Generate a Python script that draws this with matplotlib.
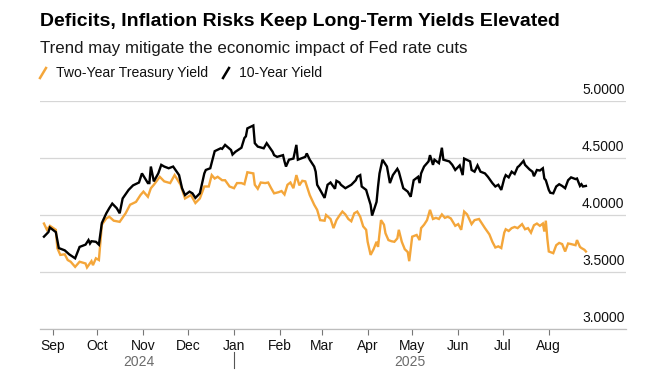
import matplotlib
matplotlib.use('Agg')
import matplotlib.pyplot as plt
import matplotlib.dates as mdates
import matplotlib.transforms as mtransforms
from matplotlib.lines import Line2D
import pandas as pd

plt.rcParams['font.family'] = ['Liberation Sans', 'DejaVu Sans']

# ==========================================
# data
# ==========================================
ten_year_dates = [
    '2024-08-26', '2024-08-29', '2024-08-30', '2024-09-03', '2024-09-05', '2024-09-09', '2024-09-12',
    '2024-09-16', '2024-09-19', '2024-09-23', '2024-09-25', '2024-09-26', '2024-09-27', '2024-09-30',
    '2024-10-02', '2024-10-04', '2024-10-07', '2024-10-09', '2024-10-11', '2024-10-14', '2024-10-16',
    '2024-10-18', '2024-10-22', '2024-10-25', '2024-10-29', '2024-10-31', '2024-11-04', '2024-11-05',
    '2024-11-06', '2024-11-08', '2024-11-11', '2024-11-13', '2024-11-15', '2024-11-18', '2024-11-21',
    '2024-11-25', '2024-11-27', '2024-11-29', '2024-12-02', '2024-12-04', '2024-12-06', '2024-12-09',
    '2024-12-12', '2024-12-13', '2024-12-16', '2024-12-18', '2024-12-19', '2024-12-23', '2024-12-24',
    '2024-12-26', '2024-12-30', '2024-12-31', '2025-01-02', '2025-01-06', '2025-01-08', '2025-01-09',
    '2025-01-10', '2025-01-14', '2025-01-15', '2025-01-17', '2025-01-21', '2025-01-23', '2025-01-27',
    '2025-01-28', '2025-01-30', '2025-02-03', '2025-02-04', '2025-02-05', '2025-02-07', '2025-02-10',
    '2025-02-12', '2025-02-13', '2025-02-18', '2025-02-19', '2025-02-21', '2025-02-24', '2025-02-25',
    '2025-02-26', '2025-02-28', '2025-03-03', '2025-03-05', '2025-03-07', '2025-03-10', '2025-03-11',
    '2025-03-13', '2025-03-14', '2025-03-17', '2025-03-19', '2025-03-21', '2025-03-24', '2025-03-25',
    '2025-03-27', '2025-03-28', '2025-03-31', '2025-04-01', '2025-04-03', '2025-04-04', '2025-04-07',
    '2025-04-08', '2025-04-09', '2025-04-11', '2025-04-14', '2025-04-15', '2025-04-16', '2025-04-18',
    '2025-04-21', '2025-04-22', '2025-04-25', '2025-04-28', '2025-04-30', '2025-05-02', '2025-05-05',
    '2025-05-06', '2025-05-07', '2025-05-09', '2025-05-12', '2025-05-13', '2025-05-15', '2025-05-16',
    '2025-05-19', '2025-05-21', '2025-05-22', '2025-05-26', '2025-05-28', '2025-05-30', '2025-06-02',
    '2025-06-04', '2025-06-05', '2025-06-09', '2025-06-10', '2025-06-12', '2025-06-14', '2025-06-16',
    '2025-06-19', '2025-06-21', '2025-06-24', '2025-06-26', '2025-06-28', '2025-06-30', '2025-07-02',
    '2025-07-03', '2025-07-05', '2025-07-07', '2025-07-09', '2025-07-11', '2025-07-12', '2025-07-15',
    '2025-07-16', '2025-07-19', '2025-07-21', '2025-07-22', '2025-07-24', '2025-07-26', '2025-07-28',
    '2025-07-29', '2025-07-30', '2025-08-01', '2025-08-02', '2025-08-04', '2025-08-06', '2025-08-08',
    '2025-08-10', '2025-08-12', '2025-08-14', '2025-08-16', '2025-08-19', '2025-08-20', '2025-08-22',
    '2025-08-23', '2025-08-24', '2025-08-26',
]
ten_year = [
    3.81, 3.85, 3.89, 3.85, 3.71, 3.69, 3.655,
    3.62, 3.72, 3.74, 3.78, 3.75, 3.77, 3.765,
    3.74, 3.93, 4.015, 4.06, 4.10, 4.06, 4.015,
    4.145, 4.22, 4.26, 4.285, 4.365, 4.28, 4.28,
    4.425, 4.295, 4.365, 4.44, 4.425, 4.41, 4.425,
    4.35, 4.235, 4.175, 4.205, 4.19, 4.15, 4.19,
    4.365, 4.395, 4.41, 4.51, 4.56, 4.585, 4.58,
    4.615, 4.57, 4.53, 4.555, 4.59, 4.675, 4.69,
    4.76, 4.785, 4.63, 4.60, 4.585, 4.63, 4.555,
    4.525, 4.51, 4.525, 4.47, 4.425, 4.485, 4.495,
    4.615, 4.485, 4.51, 4.54, 4.485, 4.425, 4.38,
    4.265, 4.22, 4.15, 4.265, 4.285, 4.23, 4.30,
    4.285, 4.265, 4.235, 4.25, 4.265, 4.305, 4.335,
    4.35, 4.25, 4.22, 4.175, 4.09, 3.995, 4.115,
    4.25, 4.365, 4.485, 4.425, 4.35, 4.28, 4.35,
    4.405, 4.38, 4.235, 4.205, 4.16, 4.305, 4.335,
    4.28, 4.365, 4.425, 4.47, 4.525, 4.44, 4.485,
    4.455, 4.59, 4.485, 4.47, 4.44, 4.395, 4.435,
    4.35, 4.495, 4.47, 4.395, 4.38, 4.435, 4.38,
    4.365, 4.335, 4.28, 4.25, 4.265, 4.22, 4.32,
    4.35, 4.33, 4.38, 4.36, 4.42, 4.43, 4.475,
    4.44, 4.40, 4.38, 4.34, 4.395, 4.39, 4.41,
    4.32, 4.305, 4.22, 4.195, 4.19, 4.25, 4.27,
    4.255, 4.235, 4.305, 4.33, 4.315, 4.32, 4.255,
    4.27, 4.25, 4.255,
]

two_year_dates = [
    '2024-08-26', '2024-08-28', '2024-08-30', '2024-09-03', '2024-09-04', '2024-09-06', '2024-09-09',
    '2024-09-11', '2024-09-13', '2024-09-16', '2024-09-19', '2024-09-23', '2024-09-24', '2024-09-27',
    '2024-09-28', '2024-09-30', '2024-10-02', '2024-10-04', '2024-10-07', '2024-10-09', '2024-10-12',
    '2024-10-16', '2024-10-20', '2024-10-23', '2024-10-27', '2024-10-30', '2024-11-01', '2024-11-04',
    '2024-11-06', '2024-11-08', '2024-11-12', '2024-11-15', '2024-11-19', '2024-11-22', '2024-11-26',
    '2024-11-29', '2024-12-03', '2024-12-06', '2024-12-09', '2024-12-12', '2024-12-15', '2024-12-17',
    '2024-12-19', '2024-12-21', '2024-12-24', '2024-12-26', '2024-12-29', '2025-01-01', '2025-01-03',
    '2025-01-06', '2025-01-08', '2025-01-10', '2025-01-14', '2025-01-15', '2025-01-17', '2025-01-19',
    '2025-01-22', '2025-01-24', '2025-01-26', '2025-01-28', '2025-01-31', '2025-02-02', '2025-02-04',
    '2025-02-06', '2025-02-08', '2025-02-10', '2025-02-12', '2025-02-14', '2025-02-16', '2025-02-18',
    '2025-02-21', '2025-02-24', '2025-02-26', '2025-02-28', '2025-03-03', '2025-03-04', '2025-03-07',
    '2025-03-09', '2025-03-11', '2025-03-13', '2025-03-15', '2025-03-17', '2025-03-19', '2025-03-21',
    '2025-03-23', '2025-03-25', '2025-03-27', '2025-03-29', '2025-03-31', '2025-04-01', '2025-04-03',
    '2025-04-05', '2025-04-07', '2025-04-08', '2025-04-10', '2025-04-12', '2025-04-13', '2025-04-15',
    '2025-04-17', '2025-04-19', '2025-04-21', '2025-04-22', '2025-04-24', '2025-04-26', '2025-04-28',
    '2025-04-29', '2025-05-01', '2025-05-04', '2025-05-06', '2025-05-07', '2025-05-09', '2025-05-11',
    '2025-05-13', '2025-05-15', '2025-05-17', '2025-05-19', '2025-05-21', '2025-05-23', '2025-05-25',
    '2025-05-27', '2025-05-30', '2025-06-01', '2025-06-03', '2025-06-05', '2025-06-07', '2025-06-10',
    '2025-06-12', '2025-06-15', '2025-06-17', '2025-06-19', '2025-06-22', '2025-06-24', '2025-06-26',
    '2025-06-28', '2025-06-30', '2025-07-02', '2025-07-03', '2025-07-05', '2025-07-07', '2025-07-09',
    '2025-07-11', '2025-07-14', '2025-07-16', '2025-07-18', '2025-07-20', '2025-07-22', '2025-07-24',
    '2025-07-26', '2025-07-28', '2025-07-29', '2025-07-30', '2025-07-31', '2025-08-01', '2025-08-03',
    '2025-08-04', '2025-08-06', '2025-08-08', '2025-08-10', '2025-08-12', '2025-08-14', '2025-08-16',
    '2025-08-19', '2025-08-20', '2025-08-22', '2025-08-23', '2025-08-25', '2025-08-26',
]
two_year = [
    3.925, 3.87, 3.905, 3.87, 3.71, 3.65, 3.655,
    3.605, 3.59, 3.545, 3.59, 3.575, 3.54, 3.595,
    3.56, 3.62, 3.605, 3.915, 3.97, 3.985, 3.95,
    3.94, 4.015, 4.09, 4.115, 4.175, 4.205, 4.16,
    4.235, 4.265, 4.335, 4.295, 4.28, 4.35, 4.265,
    4.145, 4.175, 4.105, 4.145, 4.25, 4.25, 4.35,
    4.32, 4.335, 4.305, 4.305, 4.25, 4.235, 4.28,
    4.28, 4.27, 4.375, 4.365, 4.265, 4.23, 4.285,
    4.28, 4.285, 4.235, 4.19, 4.20, 4.21, 4.18,
    4.265, 4.285, 4.235, 4.35, 4.26, 4.30, 4.295,
    4.175, 4.09, 4.045, 3.955, 3.95, 4.00, 3.965,
    3.885, 3.955, 3.995, 4.03, 4.005, 3.965, 3.945,
    4.015, 4.03, 3.985, 3.90, 3.87, 3.765, 3.65,
    3.70, 3.765, 3.72, 3.955, 3.915, 3.84, 3.78,
    3.77, 3.765, 3.795, 3.87, 3.765, 3.70, 3.675,
    3.595, 3.81, 3.825, 3.78, 3.885, 3.915, 3.955,
    4.045, 3.965, 3.975, 3.965, 4.005, 3.975, 3.985,
    3.97, 3.905, 3.92, 3.87, 4.03, 4.005, 3.92,
    3.955, 3.965, 3.925, 3.885, 3.83, 3.765, 3.715,
    3.725, 3.71, 3.845, 3.875, 3.86, 3.885, 3.895,
    3.885, 3.92, 3.875, 3.885, 3.845, 3.91, 3.925,
    3.905, 3.925, 3.855, 3.95, 3.795, 3.68, 3.67,
    3.665, 3.735, 3.755, 3.745, 3.68, 3.75, 3.745,
    3.735, 3.78, 3.72, 3.71, 3.695, 3.68,
]

y_ticks = [3.0, 3.5, 4.0, 4.5, 5.0]
month_ticks = pd.date_range('2024-09-01', '2025-08-01', freq='MS')
year_break = pd.Timestamp('2025-01-01')

title = 'Deficits, Inflation Risks Keep Long-Term Yields Elevated'
subtitle = 'Trend may mitigate the economic impact of Fed rate cuts'
series_names = ['Two-Year Treasury Yield', '10-Year Yield']

ORANGE = '#f4a63a'
BLACK = '#000000'
GRID = '#d6d6d6'

W, H = 649, 382
fig = plt.figure(figsize=(W / 100, H / 100), dpi=100)
fig.patch.set_facecolor('white')

# axes placed in pixel terms of the reference
ax_l, ax_r, ax_b, ax_t = 39.5, 626, 329, 101
ax = fig.add_axes([ax_l / W, 1 - ax_b / H, (ax_r - ax_l) / W, (ax_b - ax_t) / H])

tx = pd.to_datetime(ten_year_dates)
twx = pd.to_datetime(two_year_dates)

ax.plot(twx, two_year, color=ORANGE, linewidth=1.7, solid_joinstyle='miter', zorder=3)
ax.plot(tx, ten_year, color=BLACK, linewidth=1.7, solid_joinstyle='miter', zorder=4)

ax.set_xlim(pd.Timestamp('2024-08-23'), pd.Timestamp('2025-09-22'))
ax.set_ylim(3.0, 5.0)

for s in ['top', 'right', 'left']:
    ax.spines[s].set_visible(False)
ax.spines['bottom'].set_color('#bdbdbd')
ax.spines['bottom'].set_linewidth(0.9)

ax.set_yticks(y_ticks)
ax.yaxis.grid(True, color=GRID, linewidth=0.9)
ax.set_axisbelow(True)
ax.tick_params(axis='y', length=0, labelleft=False)

# y labels sit above their gridline at the right edge
trans_y = mtransforms.blended_transform_factory(ax.transAxes, ax.transData)
for v in y_ticks:
    ax.annotate(f'{v:.4f}', xy=(1.0, v), xycoords=trans_y, xytext=(-1, 3),
                textcoords='offset points', ha='right', va='bottom',
                fontsize=10, color='#111111', annotation_clip=False)

ax.set_xticks(month_ticks)
ax.xaxis.set_major_formatter(mdates.DateFormatter('%b'))
ax.tick_params(axis='x', length=4.5, width=0.8, color='#777777', pad=2.5,
               labelsize=10, labelcolor='#111111')

# year row under the months
trans_x = mtransforms.blended_transform_factory(ax.transData, ax.transAxes)
mid_2024 = tx[0] + (year_break - tx[0]) / 2
mid_2025 = year_break + (tx[-1] - year_break) / 2
ax.text(mid_2024, -0.145, '2024', transform=trans_x, ha='center', va='center',
        fontsize=10, color='#6b6b6b')
ax.text(mid_2025, -0.145, '2025', transform=trans_x, ha='center', va='center',
        fontsize=10, color='#6b6b6b')
ax.add_line(Line2D([year_break, year_break], [-0.1, -0.17], transform=trans_x,
                   color='#555555', linewidth=0.8, clip_on=False))

# header
fig.text(40 / W, 1 - 22 / H, title, fontsize=14, fontweight='bold', color='#000000',
         ha='left', va='center')
fig.text(40 / W, 1 - 48 / H, subtitle, fontsize=12.2, color='#1a1a1a', ha='left', va='center')

# legend: short slashes + labels
leg_y = 1 - 73 / H
fig.add_artist(Line2D([40 / W, 46 / W], [leg_y - 5 / H, leg_y + 5 / H], color=ORANGE, linewidth=1.8))
fig.text(56 / W, leg_y, series_names[0], fontsize=10.1, color='#111111', ha='left', va='center')
fig.add_artist(Line2D([223 / W, 229 / W], [leg_y - 5 / H, leg_y + 5 / H], color=BLACK, linewidth=1.8))
fig.text(239 / W, leg_y, series_names[1], fontsize=10.1, color='#111111', ha='left', va='center')

plt.savefig('out.png', dpi=100, facecolor='white')
